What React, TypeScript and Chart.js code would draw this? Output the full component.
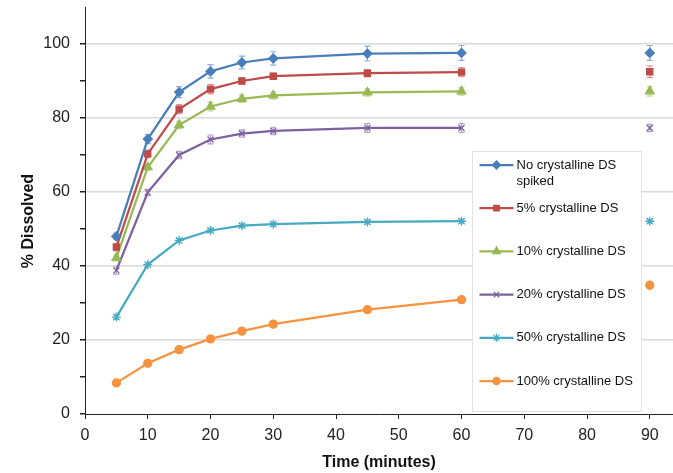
import React, { useEffect, useRef } from "react";
import { Chart, registerables } from "chart.js";
import { drawPoint } from "chart.js/helpers";

Chart.register(...registerables);

// ---- data ----
const times = [5, 10, 15, 20, 25, 30, 45, 60, 90];

const noCrystalline = [48.0, 74.3, 87.0, 92.6, 95.0, 96.1, 97.4, 97.6, 97.6];
const pct5 = [45.1, 70.3, 82.4, 87.8, 90.0, 91.3, 92.1, 92.4, 92.5];
const pct10 = [42.2, 66.7, 78.1, 83.1, 85.2, 86.1, 86.9, 87.2, 87.2];
const pct20 = [38.8, 59.9, 70.0, 74.2, 75.8, 76.5, 77.3, 77.3, 77.3];
const pct50 = [26.2, 40.4, 46.9, 49.6, 50.9, 51.3, 51.9, 52.1, 52.1];
const pct100 = [8.4, 13.7, 17.4, 20.3, 22.4, 24.3, 28.2, 30.9, 34.8];

const errNo = [0.8, 1.2, 1.5, 1.8, 1.7, 1.8, 2.0, 2.0, 2.0];
const err5 = [1.0, 1.0, 1.2, 1.3, 0.8, 0.8, 1.0, 1.2, 1.6];
const err10 = [0.8, 0.8, 1.0, 1.2, 1.0, 1.0, 1.0, 1.0, 1.3];
const err20 = [1.0, 0.8, 1.0, 1.2, 1.0, 1.0, 1.2, 1.2, 1.0];
const err50 = [0.6, 0.5, 0.5, 0.5, 0.5, 0.5, 0.5, 0.5, 0.5];
const err100 = [0.3, 0.3, 0.3, 0.3, 0.3, 0.3, 0.3, 0.3, 0.3];

const seriesLabels = [
  "No crystalline DS spiked",
  "5% crystalline DS",
  "10% crystalline DS",
  "20% crystalline DS",
  "50% crystalline DS",
  "100% crystalline DS",
];
const legendLines = [
  ["No crystalline DS", "spiked"],
  ["5% crystalline DS"],
  ["10% crystalline DS"],
  ["20% crystalline DS"],
  ["50% crystalline DS"],
  ["100% crystalline DS"],
];

const xTicks = [0, 10, 20, 30, 40, 50, 60, 70, 80, 90];
const yTicks = [0, 10, 20, 30, 40, 50, 60, 70, 80, 90, 100];

const xTitle = "Time (minutes)";
const yTitle = "% Dissolved";

// ---- styles ----
const values = [noCrystalline, pct5, pct10, pct20, pct50, pct100];
const errors = [errNo, err5, err10, err20, err50, err100];
const colors = ["#4A7EBB", "#BE4B48", "#98B954", "#7D60A0", "#46AAC5", "#F69240"];
const errColors = ["#8DAEDD", "#D99694", "#C3D69B", "#B3A2C7", "#93CDDD", "#FAC090"];
const pointStyles = ["rectRot", "rect", "triangle", "crossRot", "star", "circle"];
const pointRadii = [4.5, 4.3, 5, 4.2, 4.5, 4];
const FONT = "'Liberation Sans', Arial, sans-serif";

const errorBarPlugin = {
  id: "errorBars",
  beforeDatasetsDraw(chart: any) {
    const ctx = chart.ctx;
    const y = chart.scales.y;
    ctx.save();
    chart.data.datasets.forEach((ds: any, i: number) => {
      const meta = chart.getDatasetMeta(i);
      const errs = errors[i];
      meta.data.forEach((pt: any, j: number) => {
        const v = values[i][j];
        const e = errs[j];
        const y1 = y.getPixelForValue(v + e);
        const y2 = y.getPixelForValue(v - e);
        ctx.strokeStyle = errColors[i];
        ctx.lineWidth = 1.2;
        ctx.beginPath();
        ctx.moveTo(pt.x, y1);
        ctx.lineTo(pt.x, y2);
        ctx.moveTo(pt.x - 3, y1);
        ctx.lineTo(pt.x + 3, y1);
        ctx.moveTo(pt.x - 3, y2);
        ctx.lineTo(pt.x + 3, y2);
        ctx.stroke();
      });
    });
    ctx.restore();
  },
};

const customPlugin = {
  id: "customDecor",
  afterDraw(chart: any) {
    const ctx = chart.ctx;
    const ca = chart.chartArea;
    ctx.save();
    // y axis title
    ctx.translate(29, 221);
    ctx.rotate(-Math.PI / 2);
    ctx.font = `bold 16px ${FONT}`;
    ctx.fillStyle = "#111";
    ctx.textAlign = "center";
    ctx.textBaseline = "middle";
    ctx.fillText(yTitle, 0, 0);
    ctx.restore();

    // legend box
    const bx = ca.left + 387.5;
    const by = ca.top + 144.5;
    const bw = 169;
    const bh = 260;
    ctx.save();
    ctx.fillStyle = "#ffffff";
    ctx.fillRect(bx, by, bw, bh);
    ctx.strokeStyle = "#e3e3e3";
    ctx.lineWidth = 1;
    ctx.strokeRect(bx, by, bw, bh);
    ctx.font = `13px ${FONT}`;
    ctx.textAlign = "left";
    ctx.textBaseline = "middle";
    for (let i = 0; i < seriesLabels.length; i++) {
      const ly = by + 13.5 + i * 43.2;
      const lx1 = bx + 7;
      const lx2 = bx + 41;
      ctx.strokeStyle = colors[i];
      ctx.lineWidth = 2.25;
      ctx.beginPath();
      ctx.moveTo(lx1, ly);
      ctx.lineTo(lx2, ly);
      ctx.stroke();
      ctx.fillStyle = colors[i];
      ctx.strokeStyle = colors[i];
      ctx.lineWidth = 1.2;
      drawPoint(ctx, { pointStyle: pointStyles[i], radius: pointRadii[i] * 0.9, rotation: 0, borderWidth: 1.2 } as any, (lx1 + lx2) / 2, ly);
      ctx.fillStyle = "#111";
      legendLines[i].forEach((t, k) => ctx.fillText(t, bx + 44, ly + k * 16));
    }
    ctx.restore();
  },
};

export default function App() {
  const ref = useRef<HTMLCanvasElement>(null);
  useEffect(() => {
    document.body.style.margin = "0";
    const canvas = ref.current!;
    const chart = new Chart(canvas, {
      type: "line",
      data: {
        datasets: seriesLabels.map((label, i) => ({
          label,
          data: times.map((t, j) => ({ x: t, y: values[i][j] })),
          borderColor: colors[i],
          backgroundColor: colors[i],
          borderWidth: 2.25,
          pointStyle: pointStyles[i] as any,
          pointRadius: pointRadii[i],
          pointBorderWidth: 1.3,
          pointBackgroundColor: colors[i],
          pointBorderColor: colors[i],
          tension: 0,
          fill: false,
          segment: {
            borderColor: (c: any) => (c.p1DataIndex === times.length - 1 ? "rgba(0,0,0,0)" : undefined),
          },
        })),
      },
      options: {
        responsive: false,
        animation: false,
        layout: { autoPadding: false, padding: { top: 7, right: 0, left: 0, bottom: 0 } },
        plugins: {
          legend: { display: false },
          tooltip: { enabled: false },
        },
        scales: {
          x: {
            type: "linear",
            min: 0,
            max: 93.7,
            afterBuildTicks: (s: any) => {
              s.ticks = xTicks.map((v) => ({ value: v }));
            },
            afterFit: (s: any) => {
              s.height = 59;
              s.paddingLeft = 0;
              s.paddingRight = 0;
            },
            grid: {
              drawOnChartArea: false,
              drawTicks: true,
              tickLength: 5,
              tickColor: "#222",
            },
            border: { display: true, color: "#222", width: 1 },
            ticks: {
              font: { family: FONT, size: 16 },
              color: "#222",
              padding: 7,
              maxRotation: 0,
              autoSkip: false,
            },
            title: {
              display: true,
              text: xTitle,
              font: { family: FONT, size: 16, weight: "bold" },
              color: "#111",
              padding: { top: 0, bottom: 1 },
            },
          },
          y: {
            type: "linear",
            min: 0,
            max: 110,
            afterBuildTicks: (s: any) => {
              s.ticks = yTicks.map((v) => ({ value: v }));
            },
            afterFit: (s: any) => {
              s.width = 85;
              s.paddingTop = 0;
              s.paddingBottom = 0;
            },
            grid: {
              color: (c: any) => (c.tick && c.tick.value % 20 === 0 && c.tick.value > 0 ? "#d9d9d9" : "rgba(0,0,0,0)"),
              lineWidth: 1.5,
              drawTicks: true,
              tickLength: 5,
              tickColor: "#222",
            },
            border: { display: true, color: "#222", width: 1 },
            ticks: {
              font: { family: FONT, size: 16 },
              color: "#222",
              padding: 10,
              autoSkip: false,
              callback: (v: any) => (Number(v) % 20 === 0 ? String(v) : ""),
            },
          },
        },
      },
      plugins: [errorBarPlugin, customPlugin],
    });
    return () => chart.destroy();
  }, []);
  return <canvas ref={ref} width={673} height={473} style={{ display: "block" }} />;
}
